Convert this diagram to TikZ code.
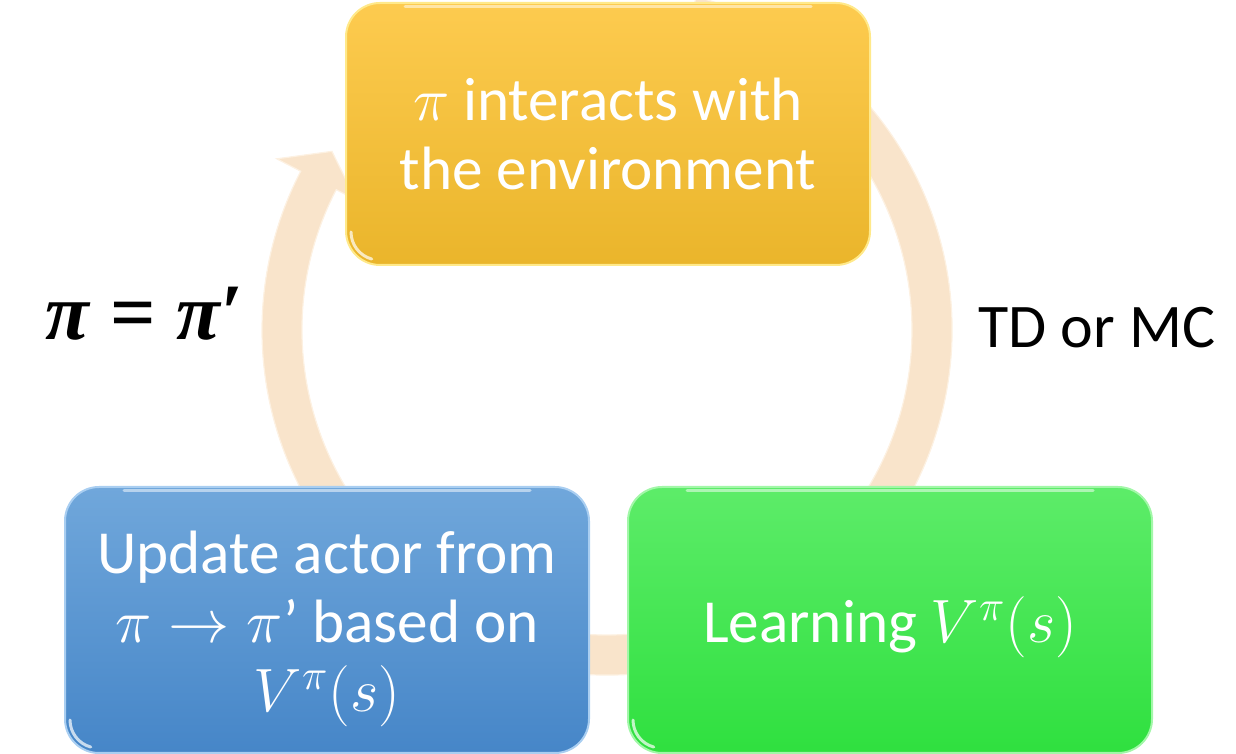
\RequirePackage{fix-cm}
\documentclass[tikz,border=0pt]{standalone}
\usepackage{fontspec}
\setmainfont{Carlito}
\newfontfamily\symfont{Liberation Serif}
\definecolor{bandfill}{HTML}{F9E4CB}
\definecolor{bandedge}{HTML}{FDF1E2}
\definecolor{ytop}{HTML}{FDCB4F}
\definecolor{ybot}{HTML}{EAB52B}
\definecolor{yrim}{HTML}{FFE98A}
\definecolor{btop}{HTML}{70A7DB}
\definecolor{bbot}{HTML}{4686C8}
\definecolor{brim}{HTML}{A9CEF1}
\definecolor{gtop}{HTML}{5DEC69}
\definecolor{gbot}{HTML}{2FE03F}
\definecolor{grim}{HTML}{A2F7A8}
\tikzset{
  stagebox/.style={rounded corners=17pt, minimum width=262pt, minimum height=131pt,
    inner sep=0pt, align=center, text=white, line width=1pt,
    font=\fontsize{30.6}{34.5}\selectfont},
  sidelabel/.style={anchor=base west, inner sep=0pt, font=\fontsize{31}{36}\selectfont},
  band/.style={fill=bandfill, draw=bandedge, line width=0.6pt},
  gloss/.style={white, opacity=0.5, line width=1.5pt, line cap=round}}
\begin{document}
\begin{tikzpicture}[x=0.5pt,y=0.5pt]
\useasboundingbox (0,0) rectangle (1236,754);

% circular arrow behind the three stages
\coordinate (c) at (607,424);
\begin{scope}[shift={(c)}]
  \path[band] (75:345) arc[start angle=75, end angle=-207.4, radius=345]
    -- (-207.4:372) -- (-213:328) -- (-207.4:283) -- (-207.4:305)
    arc[start angle=-207.4, end angle=75, radius=305] -- cycle;
\end{scope}

% stages (the struts lower the text a little inside the lower boxes)
\node[stagebox, draw=yrim, top color=ytop, bottom color=ybot] (interact) at (608,620)
  {$\pi$ interacts with\\the environment};
\node[stagebox, draw=brim, top color=btop, bottom color=bbot, minimum height=133pt] (update) at (327,134)
  {\rule{0pt}{30pt}Update actor from\\$\pi\rightarrow\pi$’ based on\\$V^{\pi}(s)$};
\node[stagebox, draw=grim, top color=gtop, bottom color=gbot, minimum height=133pt] (learn) at (890,134)
  {\rule{0pt}{30pt}Learning $V^{\pi}(s)$};

% glossy highlights along the top and in the lower left corner of each stage
\foreach \b in {interact, update, learn} {
  \draw[gloss] ([xshift=30pt,yshift=-2.5pt]\b.north west) -- ([xshift=-30pt,yshift=-2.5pt]\b.north east);
  \draw[gloss, opacity=0.7] ([xshift=3pt,yshift=17pt]\b.south west) arc[start angle=180, end angle=255, radius=14pt];
}

% side labels
\node[sidelabel, font=\symfont\fontsize{40}{44}\selectfont\bfseries] (assign) at (45,414)
  {\textit{π} = \textit{π}′};
\node[sidelabel] (method) at (978,406) {TD or MC};
\end{tikzpicture}
\end{document}
